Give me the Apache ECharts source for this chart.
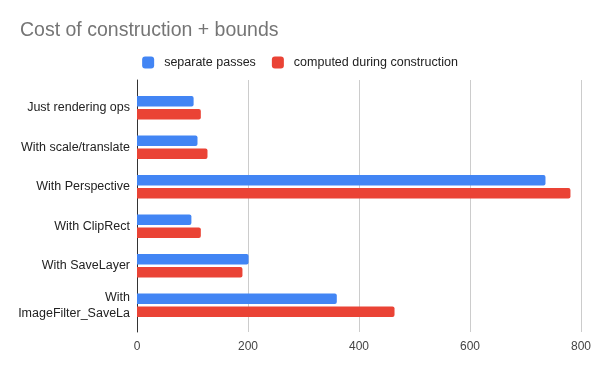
<!DOCTYPE html>
<html><head><meta charset="utf-8">
<script src="https://cdn.jsdelivr.net/npm/echarts@6/dist/echarts.min.js"></script>
<style>html,body{margin:0;padding:0;background:#fff}#c{width:600px;height:371px}</style>
</head><body><div id="c"></div>
<script>
const categories = ['Just rendering ops', 'With scale/translate', 'With Perspective', 'With ClipRect', 'With SaveLayer', 'With\nImageFilter_SaveLa'];
const separatePasses = [102, 109, 736, 98, 201, 360];
const computedDuringConstruction = [115, 127, 781, 115, 190, 464];
const xTicks = [0, 200, 400, 600, 800];

const chart = echarts.init(document.getElementById('c'), null, {renderer: 'canvas'});
const font = '"Liberation Sans", Arial, sans-serif';
const xMin = xTicks[0], xMax = xTicks[xTicks.length - 1];
chart.setOption({
  animation: false,
  backgroundColor: '#fff',
  title: {
    text: 'Cost of construction + bounds',
    left: 15, top: 16,
    textStyle: {fontFamily: font, fontSize: 19.5, fontWeight: 'normal', color: '#757575'}
  },
  legend: {
    top: 51, left: 'center',
    itemWidth: 12, itemHeight: 12, itemGap: 16,
    icon: 'roundRect',
    textStyle: {fontFamily: font, fontSize: 12.5, color: '#222', padding: [0, 0, 0, 5]},
    data: ['separate passes', 'computed during construction']
  },
  grid: [
    {left: 137, right: 19, top: 80, bottom: 39, containLabel: false},
    {left: 137, right: 19, top: 88, bottom: 46, containLabel: false}
  ],
  xAxis: [
    {
      gridIndex: 0, type: 'value', min: xMin, max: xMax, interval: 200,
      axisLine: {show: false}, axisTick: {show: false},
      splitLine: {lineStyle: {color: '#cccccc', width: 1}},
      axisLabel: {fontFamily: font, fontSize: 12, color: '#444', margin: 9}
    },
    {
      gridIndex: 1, type: 'value', min: xMin, max: xMax, interval: 200,
      axisLine: {show: false}, axisTick: {show: false}, splitLine: {show: false},
      axisLabel: {show: false}
    }
  ],
  yAxis: [
    {
      gridIndex: 0, type: 'value', min: 0, max: 1,
      axisLine: {show: true, lineStyle: {color: '#333', width: 1}},
      axisTick: {show: false}, axisLabel: {show: false}, splitLine: {show: false}
    },
    {
      gridIndex: 1, type: 'category', data: categories, inverse: true,
      axisLine: {show: false},
      axisTick: {show: false},
      axisLabel: {fontFamily: font, fontSize: 12.5, color: '#222', margin: 7, lineHeight: 16}
    }
  ],
  series: [
    {name: 'separate passes', type: 'bar', xAxisIndex: 1, yAxisIndex: 1, data: separatePasses, barWidth: 10.5, barGap: '25%',
     itemStyle: {color: '#4285F4', borderRadius: [0, 2, 2, 0]}},
    {name: 'computed during construction', type: 'bar', xAxisIndex: 1, yAxisIndex: 1, data: computedDuringConstruction, barWidth: 10.5, barGap: '25%',
     itemStyle: {color: '#EA4335', borderRadius: [0, 2, 2, 0]}}
  ]
});
</script></body></html>
